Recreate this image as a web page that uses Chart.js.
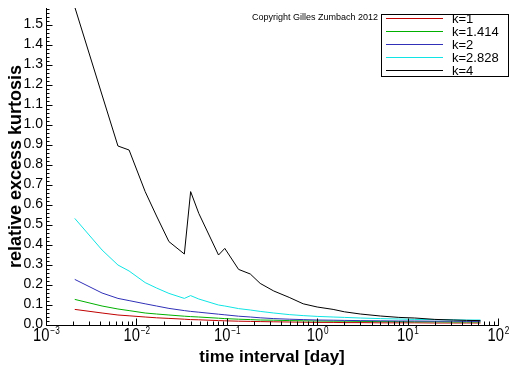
<!DOCTYPE html>
<html><head><meta charset="utf-8">
<script src="https://cdn.jsdelivr.net/npm/chart.js@4/dist/chart.umd.min.js"></script>
<style>html,body{margin:0;padding:0;background:#fff;}canvas{display:block;}</style>
</head><body>
<canvas id="c" width="512" height="366"></canvas>
<script>
// time interval in days
const timeIntervalDays = [0.00208,0.00417,0.00625,0.0083,0.0125,0.0167,0.0229,0.0339,0.0398,0.049,0.081,0.095,0.135,0.182,0.234,0.331,0.49,0.7,1.0,1.5,2,3,5,8,12,20,32,45,64];
const kurtK1    = [0.078,0.060,0.050,0.046,0.040,0.036,0.033,0.029,0.027,0.026,0.022,0.021,0.019,0.018,0.017,0.016,0.015,0.014,0.013,0.013,0.012,0.012,0.011,0.011,0.011,0.010,0.010,0.010,0.010];
const kurtK1414 = [0.128,0.095,0.080,0.072,0.060,0.055,0.050,0.044,0.042,0.040,0.034,0.032,0.029,0.027,0.025,0.024,0.022,0.021,0.020,0.019,0.019,0.018,0.017,0.017,0.016,0.016,0.015,0.015,0.015];
const kurtK2    = [0.228,0.160,0.133,0.122,0.106,0.095,0.083,0.072,0.068,0.064,0.054,0.051,0.044,0.040,0.036,0.032,0.029,0.027,0.025,0.024,0.023,0.022,0.021,0.020,0.020,0.019,0.019,0.018,0.018];
const kurtK2828 = [0.533,0.375,0.300,0.270,0.212,0.185,0.158,0.133,0.147,0.130,0.100,0.095,0.082,0.075,0.068,0.060,0.052,0.047,0.043,0.040,0.038,0.035,0.032,0.030,0.028,0.027,0.026,0.025,0.025];
const kurtK4    = [1.59,1.15,0.895,0.875,0.667,0.545,0.417,0.355,0.667,0.558,0.350,0.383,0.278,0.255,0.208,0.170,0.138,0.106,0.090,0.078,0.066,0.055,0.045,0.038,0.035,0.028,0.025,0.023,0.022];
const seriesLabels = ['k=1','k=1.414','k=2','k=2.828','k=4'];
const seriesColors = ['#c00000','#00b000','#3030b8','#10e4e4','#000000'];
const yTickLabels = ['0.0','0.1','0.2','0.3','0.4','0.5','0.6','0.7','0.8','0.9','1.0','1.1','1.2','1.3','1.4','1.5'];
const xTickExponents = ['-3','-2','-1','0','1','2'];
const xTitle = 'time interval [day]';
const yTitle = 'relative excess kurtosis';
const copyrightText = 'Copyright Gilles Zumbach 2012';

const allSeries = [kurtK1, kurtK1414, kurtK2, kurtK2828, kurtK4];
const datasets = allSeries.map((vals, i) => ({
  label: seriesLabels[i],
  data: timeIntervalDays.map((t, j) => ({x: t, y: vals[j]})),
  borderColor: seriesColors[i],
  borderWidth: 1,
  pointRadius: 0,
  tension: 0,
  fill: false,
  order: 4 - i
}));

const FONT = '"Liberation Sans", Arial, sans-serif';

const axesPlugin = {
  id: 'axesPlugin',
  afterDraw(chart) {
    const ctx = chart.ctx;
    const xs = chart.scales.x, ys = chart.scales.y;
    const ca = chart.chartArea;
    ctx.save();
    ctx.strokeStyle = '#000';
    ctx.fillStyle = '#000';
    ctx.lineWidth = 1;
    const x0 = Math.round(ca.left) + 0.5;
    const y0 = Math.round(ca.bottom) + 0.5;
    ctx.beginPath();
    ctx.moveTo(x0, y0); ctx.lineTo(x0, Math.round(ca.top));
    ctx.moveTo(x0, y0); ctx.lineTo(Math.round(ca.right) + 1, y0);
    ctx.stroke();
    ctx.beginPath();
    for (let i = 0; i <= 79; i++) {
      const v = i * 0.02;
      if (v > ys.max + 1e-9) break;
      const py = Math.round(ys.getPixelForValue(v)) + 0.5;
      const len = (i % 5 === 0) ? 6 : 3;
      ctx.moveTo(x0, py); ctx.lineTo(x0 + len, py);
    }
    for (let e = -3; e <= 2; e++) {
      for (let m = 1; m <= 9; m++) {
        if (e === 2 && m > 1) break;
        const v = m * Math.pow(10, e);
        const px = Math.round(xs.getPixelForValue(v)) + 0.5;
        const len = (m === 1) ? 7 : 4;
        ctx.moveTo(px, y0); ctx.lineTo(px, y0 - len);
      }
    }
    ctx.stroke();
    ctx.font = '14px ' + FONT;
    ctx.textAlign = 'right';
    ctx.textBaseline = 'middle';
    yTickLabels.forEach(l => {
      const py = ys.getPixelForValue(parseFloat(l));
      ctx.fillText(l, 43, py - 1);
    });
    xTickExponents.forEach(ex => {
      const px = xs.getPixelForValue(Math.pow(10, parseFloat(ex)));
      const sx = 0.82;
      ctx.font = '18px ' + FONT;
      const wBase = ctx.measureText('10').width * sx;
      ctx.font = '10px ' + FONT;
      const supTxt = ex.replace('-', '\u2212');
      const wSup = ctx.measureText(supTxt).width * sx;
      const left = px - (wBase + wSup) / 2;
      ctx.save();
      ctx.textAlign = 'left';
      ctx.textBaseline = 'alphabetic';
      ctx.translate(left, 0);
      ctx.scale(sx, 1);
      ctx.font = '18px ' + FONT;
      ctx.fillText('10', 0, 341);
      ctx.font = '10px ' + FONT;
      ctx.fillText(supTxt, wBase / sx + 1, 334);
      ctx.restore();
    });
    ctx.font = 'bold 17px ' + FONT;
    ctx.textAlign = 'center';
    ctx.textBaseline = 'alphabetic';
    ctx.fillText(xTitle, (ca.left + ca.right) / 2, 362);
    ctx.save();
    ctx.translate(21, (ca.top + ca.bottom) / 2);
    ctx.rotate(-Math.PI / 2);
    ctx.font = 'bold 18px ' + FONT;
    ctx.fillText(yTitle, 0, 0);
    ctx.restore();
    ctx.font = '9px ' + FONT;
    ctx.textAlign = 'right';
    ctx.fillText(copyrightText, 378, 20);
    // legend
    ctx.strokeStyle = '#000';
    ctx.strokeRect(381.5, 14.5, 127, 62);
    seriesLabels.forEach((lab, i) => {
      const yy = Math.round(18 + i * 12.9) + 0.5;
      ctx.strokeStyle = seriesColors[i];
      ctx.lineWidth = 1;
      ctx.beginPath();
      ctx.moveTo(386, yy); ctx.lineTo(443, yy);
      ctx.stroke();
      ctx.font = '13px ' + FONT;
      ctx.textAlign = 'left';
      ctx.textBaseline = 'middle';
      ctx.fillStyle = '#000';
      ctx.fillText(lab, 452, yy + 1);
    });
    ctx.restore();
  }
};

new Chart(document.getElementById('c'), {
  type: 'line',
  data: {datasets},
  options: {
    responsive: false,
    animation: false,
    devicePixelRatio: 1,
    layout: {padding: {left: 46, right: 14, top: 8, bottom: 41}},
    scales: {
      x: {type: 'logarithmic', min: 1e-3, max: 1e2, display: false},
      y: {type: 'linear', min: 0, max: 1.585, display: false}
    },
    plugins: {legend: {display: false}, tooltip: {enabled: false}}
  },
  plugins: [axesPlugin]
});
</script>
</body></html>
